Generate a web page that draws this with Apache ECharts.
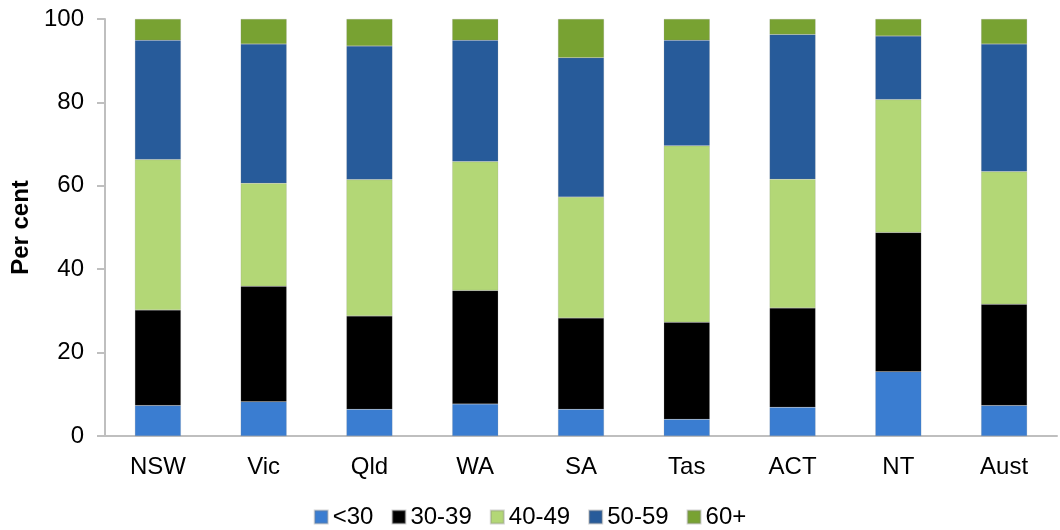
<!DOCTYPE html>
<html><head><meta charset="utf-8">
<script src="https://cdn.jsdelivr.net/npm/echarts@6/dist/echarts.min.js"></script>
<style>html,body{margin:0;padding:0;background:#fff}#c{width:1060px;height:530px}</style>
</head><body><div id="c"></div>
<script>
const categories = ['NSW','Vic','Qld','WA','SA','Tas','ACT','NT','Aust'];
const seriesNames = ['<30','30-39','40-49','50-59','60+'];
const under30 = [7.3, 8.2, 6.4, 7.7, 6.4, 4.0, 6.9, 15.4, 7.3];
const age30to39 = [22.9, 27.7, 22.4, 27.2, 21.9, 23.3, 23.8, 33.4, 24.3];
const age40to49 = [36.1, 24.7, 32.7, 30.9, 29.0, 42.3, 30.9, 31.9, 31.8];
const age50to59 = [28.6, 33.4, 32.0, 29.1, 33.4, 25.3, 34.7, 15.2, 30.6];
const age60plus = [5.1, 6.0, 6.5, 5.1, 9.3, 5.1, 3.7, 4.1, 6.0];
const yTicks = [0, 20, 40, 60, 80, 100];

const colors = ['#3A7DD1', '#000000', '#B3D776', '#275B9A', '#78A232'];
const dataSets = [under30, age30to39, age40to49, age50to59, age60plus];
const font = 'Liberation Sans, Arial, sans-serif';

const chart = echarts.init(document.getElementById('c'));
chart.setOption({
  animation: false,
  grid: {left: 105, right: 3, top: 19, bottom: 94},
  legend: {
    top: 500, left: 'center', itemWidth: 13, itemHeight: 13, itemGap: 18,
    icon: 'rect',
    textStyle: {fontFamily: font, fontSize: 24, color: '#000'},
    data: seriesNames
  },
  xAxis: {
    type: 'category', data: categories,
    axisLine: {lineStyle: {color: '#BFBFBF', width: 2}},
    axisTick: {show: false},
    axisLabel: {fontFamily: font, fontSize: 24, color: '#000', margin: 19}
  },
  yAxis: {
    type: 'value', min: yTicks[0], max: yTicks[yTicks.length-1], interval: 20,
    name: 'Per cent', nameLocation: 'middle', nameGap: 67,
    nameTextStyle: {fontFamily: font, fontSize: 24, fontWeight: 'bold', color: '#000'},
    axisLine: {show: true, lineStyle: {color: '#BFBFBF', width: 2}},
    axisTick: {show: true, length: 8, lineStyle: {color: '#BFBFBF', width: 2}},
    splitLine: {show: false},
    axisLabel: {fontFamily: font, fontSize: 24, color: '#000', margin: 21}
  },
  series: dataSets.map((d, i) => ({
    name: seriesNames[i], type: 'bar', stack: 'total', data: d,
    barWidth: 46,
    itemStyle: {color: colors[i], borderColor: 'rgba(128,128,128,0.35)', borderWidth: 0.5}
  }))
});
</script></body></html>
